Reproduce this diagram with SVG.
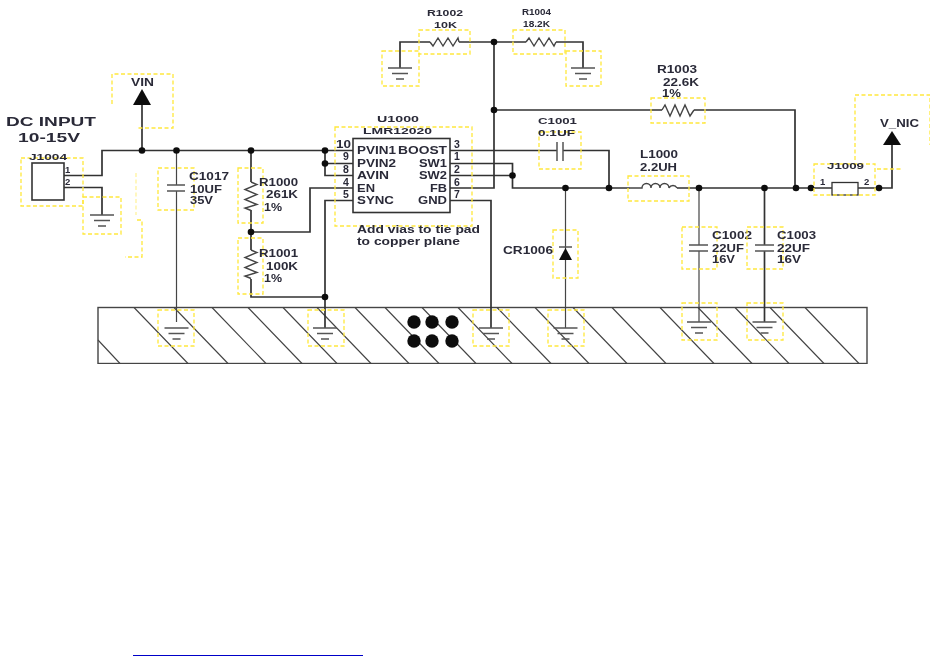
<svg xmlns="http://www.w3.org/2000/svg" width="941" height="656" viewBox="0 0 941 656">
<style>
text{font-family:"Liberation Sans",Arial,sans-serif;font-size:10.5px;fill:#2a2a38;font-weight:bold}
.b{fill:none;stroke:#ffe83c;stroke-width:1.3;stroke-dasharray:4 2.5}
.w{fill:none;stroke:#333;stroke-width:1.7}
.t{fill:none;stroke:#444;stroke-width:1.200}
.r{fill:none;stroke:#444;stroke-width:1.400}
.h{fill:none;stroke:#444;stroke-width:1.100}
.d{fill:#0c0c0c;stroke:none}
.g{fill:none;stroke:#555;stroke-width:1.500}
.big{font-size:13.5px}
.sm{font-size:9.5px}
.xs{font-size:8.500px}
</style>
<defs>
<g id="gnd"><path class="g" d="M-12 0H12M-8 5.500H8M-4 11H4"/></g>
<circle id="dot" r="3.300" class="d"/>
<filter id="soft" x="0" y="0" width="100%" height="100%"><feGaussianBlur stdDeviation="0.4"/></filter>
</defs>
<rect width="941" height="656" fill="#fff"/>
<g filter="url(#soft)">
<g id="plane">
<rect x="98" y="307.500" width="769" height="56" fill="none" stroke="#444" stroke-width="1.400"/>
<path class="h" d="M134 307.500l54 56M174 307.500l54 56M212 307.500l54 56M248 307.500l54 56M283 307.500l54 56M317 307.500l54 56M355 307.500l54 56M385 307.500l54 56M422 307.500l54 56M458 307.500l54 56M497 307.500l54 56M535 307.500l54 56M573 307.500l54 56M612 307.500l54 56M660 307.500l54 56M698 307.500l54 56M735 307.500l54 56M770 307.500l54 56M805 307.500l54 56M98 340l22 23.500"/>
</g>
<g id="connectors">
<path class="w" d="M64 175.500H102V150.500H353M64 187.500H102V215"/>
<path class="w" d="M142 150V104"/>
<path class="t" d="M176.500 150V185M176.500 191V322"/>
<path class="w" d="M251 150V182M251 210V250M251 279V297H325"/>
<path class="w" d="M325 150.500V175.500H353M325 163.500H353M251 232H310V188H353M353 200.500H325V328"/>
<path class="w" d="M450 150.500H557M563 150.500H609V188M450 163.500H512.500V188H630M450 175.500H512.500M450 188H494V42M494 110H662M694 110H795V188"/>
<path class="w" d="M400 68V42H430M459 42H526M556 42H583V68"/>
<path class="w" d="M450 200.500H491V328"/>
<path class="t" d="M565.500 188V328"/>
<path class="w" d="M677 188H832M858 188H892V145"/>
<path class="t" d="M699 188V245M699 251V322"/>
<path class="w" d="M764.500 188V245M764.500 251V322"/>
</g>
<g id="junctions">
<use href="#dot" x="142" y="150.500"/><use href="#dot" x="176.500" y="150.500"/><use href="#dot" x="251" y="150.500"/><use href="#dot" x="325" y="150.500"/><use href="#dot" x="325" y="163.500"/><use href="#dot" x="251" y="232"/><use href="#dot" x="325" y="297"/><use href="#dot" x="494" y="42"/><use href="#dot" x="494" y="110"/><use href="#dot" x="512.500" y="175.500"/><use href="#dot" x="565.500" y="188"/><use href="#dot" x="609" y="188"/><use href="#dot" x="699" y="188"/><use href="#dot" x="764.500" y="188"/><use href="#dot" x="796" y="188"/><use href="#dot" x="811" y="188"/><use href="#dot" x="879" y="188"/>
</g>
<g id="vias"><circle class="d" cx="414" cy="322" r="6.700"/><circle class="d" cx="432" cy="322" r="6.700"/><circle class="d" cx="452" cy="322" r="6.700"/><circle class="d" cx="414" cy="341" r="6.700"/><circle class="d" cx="432" cy="341" r="6.700"/><circle class="d" cx="452" cy="341" r="6.700"/></g>
<g id="J1004"><rect x="32" y="163" width="32" height="37" fill="#fff" stroke="#333" stroke-width="1.600"/><rect class="b" x="21" y="158" width="62" height="48"/><text x="29" y="160" class="sm" textLength="38" lengthAdjust="spacingAndGlyphs">J1004</text><text x="65" y="173" class="sm">1</text><text x="65" y="185" class="sm">2</text><text x="6" y="126" class="big" textLength="90" lengthAdjust="spacingAndGlyphs">DC INPUT</text><text x="18" y="142" class="big" textLength="62" lengthAdjust="spacingAndGlyphs">10-15V</text></g>
<g id="VIN"><path class="d" d="M142 89L133 105H151Z"/><path class="b" d="M112 104V74H173V128H136"/><text x="131" y="86" textLength="23" lengthAdjust="spacingAndGlyphs">VIN</text></g>
<g id="stray"><path class="b" d="M136 173V215" stroke-opacity=".5"/><path class="b" d="M137 220H142V257H125"/></g>
<g id="C1017"><path class="g" d="M167 185H185M167 191H185"/><rect class="b" x="158" y="168" width="36" height="42"/><text x="189" y="180" textLength="40" lengthAdjust="spacingAndGlyphs">C1017</text><text x="190" y="193" textLength="32" lengthAdjust="spacingAndGlyphs">10UF</text><text x="190" y="204" textLength="23" lengthAdjust="spacingAndGlyphs">35V</text></g>
<g id="R1000"><path class="r" d="M251 182l6 2.500-12 5 12 5-12 5 12 5-12 3.500 6 2.500"/><rect class="b" x="238" y="168" width="25" height="55"/><text x="259" y="186" textLength="39" lengthAdjust="spacingAndGlyphs">R1000</text><text x="266" y="198" textLength="32" lengthAdjust="spacingAndGlyphs">261K</text><text x="264" y="211" textLength="18" lengthAdjust="spacingAndGlyphs">1%</text></g>
<g id="R1001"><path class="r" d="M251 250l6 2.500-12 5 12 5-12 5 12 5-12 3.500 6 2.500"/><rect class="b" x="238" y="238" width="25" height="56"/><text x="259" y="257" textLength="39" lengthAdjust="spacingAndGlyphs">R1001</text><text x="266" y="270" textLength="32" lengthAdjust="spacingAndGlyphs">100K</text><text x="264" y="282" textLength="18" lengthAdjust="spacingAndGlyphs">1%</text></g>
<g id="U1000"><rect x="353" y="138.500" width="97" height="74" fill="#fff" stroke="#333" stroke-width="1.600"/><rect class="b" x="335" y="127" width="137" height="99"/>
<text x="377" y="122" class="xs" textLength="42" lengthAdjust="spacingAndGlyphs">U1000</text><text x="363" y="134" class="xs" textLength="69" lengthAdjust="spacingAndGlyphs">LMR12020</text>
<text x="357" y="154" textLength="39" lengthAdjust="spacingAndGlyphs">PVIN1</text><text x="398" y="154" textLength="49" lengthAdjust="spacingAndGlyphs">BOOST</text><text x="357" y="167" textLength="39" lengthAdjust="spacingAndGlyphs">PVIN2</text><text x="419" y="167" textLength="28" lengthAdjust="spacingAndGlyphs">SW1</text><text x="357" y="179" textLength="32" lengthAdjust="spacingAndGlyphs">AVIN</text><text x="419" y="179" textLength="28" lengthAdjust="spacingAndGlyphs">SW2</text><text x="357" y="192" textLength="18" lengthAdjust="spacingAndGlyphs">EN</text><text x="430" y="192" textLength="17" lengthAdjust="spacingAndGlyphs">FB</text><text x="357" y="204" textLength="37" lengthAdjust="spacingAndGlyphs">SYNC</text><text x="418" y="204" textLength="29" lengthAdjust="spacingAndGlyphs">GND</text>
<text x="336" y="148" textLength="15" lengthAdjust="spacingAndGlyphs">10</text><text x="343" y="160">9</text><text x="343" y="173">8</text><text x="343" y="186">4</text><text x="343" y="198">5</text>
<text x="454" y="148">3</text><text x="454" y="160">1</text><text x="454" y="173">2</text><text x="454" y="186">6</text><text x="454" y="198">7</text>
<text x="357" y="233" textLength="123" lengthAdjust="spacingAndGlyphs">Add vias to tie pad</text><text x="357" y="245" textLength="103" lengthAdjust="spacingAndGlyphs">to copper plane</text></g>
<g id="R1002"><path class="r" d="M430 42l3 4 5-8 5 8 5-8 5 8 5-8 1 4"/><rect class="b" x="419" y="30" width="51" height="24"/><text x="427" y="16" class="sm" textLength="36" lengthAdjust="spacingAndGlyphs">R1002</text><text x="434" y="28" class="sm" textLength="23" lengthAdjust="spacingAndGlyphs">10K</text></g>
<g id="R1004"><path class="r" d="M526 42l3-4 5 8 5-8 5 8 5-8 5 8 2-4"/><rect class="b" x="513" y="30" width="52" height="24"/><text x="522" y="15" class="xs" textLength="29" lengthAdjust="spacingAndGlyphs">R1004</text><text x="523" y="27" class="sm" textLength="27" lengthAdjust="spacingAndGlyphs">18.2K</text></g>
<g id="C1001"><path class="g" d="M557 142V161M563 142V161"/><rect class="b" x="539" y="132" width="42" height="37"/><text x="538" y="124" class="xs" textLength="39" lengthAdjust="spacingAndGlyphs">C1001</text><text x="538" y="136" class="xs" textLength="37" lengthAdjust="spacingAndGlyphs">0.1UF</text></g>
<g id="CR1006"><path class="d" d="M565.500 248L559 260H572Z"/><path class="g" d="M559 247H572"/><rect class="b" x="553" y="230" width="25" height="48"/><text x="503" y="254" textLength="50" lengthAdjust="spacingAndGlyphs">CR1006</text></g>
<g id="R1003"><path class="r" d="M662 110l3-5 5 11 5-11 5 11 5-11 5 11 4-6"/><rect class="b" x="651" y="98" width="54" height="25"/><text x="657" y="73" textLength="40" lengthAdjust="spacingAndGlyphs">R1003</text><text x="663" y="86" textLength="36" lengthAdjust="spacingAndGlyphs">22.6K</text><text x="662" y="97" textLength="19" lengthAdjust="spacingAndGlyphs">1%</text></g>
<g id="L1000"><path class="r" d="M630 188h12a4.500 4.500 0 0 1 9 0a4.500 4.500 0 0 1 9 0a4.500 4.500 0 0 1 9 0a4.500 4.500 0 0 1 8 0"/><rect class="b" x="628" y="176" width="61" height="25"/><text x="640" y="158" textLength="38" lengthAdjust="spacingAndGlyphs">L1000</text><text x="640" y="171" textLength="37" lengthAdjust="spacingAndGlyphs">2.2UH</text></g>
<g id="C1002"><path class="g" d="M689 245H708M689 251H708"/><rect class="b" x="682" y="227" width="35" height="42"/><text x="712" y="239" textLength="40" lengthAdjust="spacingAndGlyphs">C1002</text><text x="712" y="252" textLength="32" lengthAdjust="spacingAndGlyphs">22UF</text><text x="712" y="263" textLength="23" lengthAdjust="spacingAndGlyphs">16V</text></g>
<g id="C1003"><path class="g" d="M755 245H774M755 251H774"/><rect class="b" x="747" y="227" width="36" height="42"/><text x="777" y="239" textLength="39" lengthAdjust="spacingAndGlyphs">C1003</text><text x="777" y="252" textLength="33" lengthAdjust="spacingAndGlyphs">22UF</text><text x="777" y="263" textLength="24" lengthAdjust="spacingAndGlyphs">16V</text></g>
<g id="J1009"><rect x="832" y="182.500" width="26" height="12.500" fill="#fff" stroke="#333" stroke-width="1.300"/><rect class="b" x="814" y="164" width="61" height="31"/><text x="827" y="169" class="sm" textLength="37" lengthAdjust="spacingAndGlyphs">J1009</text><text x="820" y="185" class="sm">1</text><text x="864" y="185" class="sm">2</text></g>
<g id="V_NIC"><path class="d" d="M892 131L883 145H901Z"/><path class="b" d="M855 160V95H930V145M877 169H901"/><text x="880" y="127" textLength="39" lengthAdjust="spacingAndGlyphs">V_NIC</text></g>
<g id="grounds">
<use href="#gnd" x="102" y="215"/><rect class="b" x="83" y="197" width="38" height="37"/>
<use href="#gnd" x="176.500" y="328"/><rect class="b" x="158" y="310" width="36" height="36"/>
<use href="#gnd" x="325" y="328"/><rect class="b" x="308" y="310" width="36" height="36"/>
<use href="#gnd" x="491" y="328"/><rect class="b" x="473" y="310" width="36" height="36"/>
<use href="#gnd" x="565.500" y="328"/><rect class="b" x="548" y="310" width="36" height="36"/>
<use href="#gnd" x="699" y="322"/><rect class="b" x="682" y="303" width="35" height="37"/>
<use href="#gnd" x="764.500" y="322"/><rect class="b" x="747" y="303" width="36" height="37"/>
<use href="#gnd" x="400" y="68"/><rect class="b" x="382" y="51" width="37" height="35"/>
<use href="#gnd" x="583" y="68"/><rect class="b" x="566" y="51" width="35" height="35"/>
</g>
</g>
<path id="rule" d="M133 655.500H363" stroke="#0000c8" stroke-width="1" fill="none"/>
</svg>
